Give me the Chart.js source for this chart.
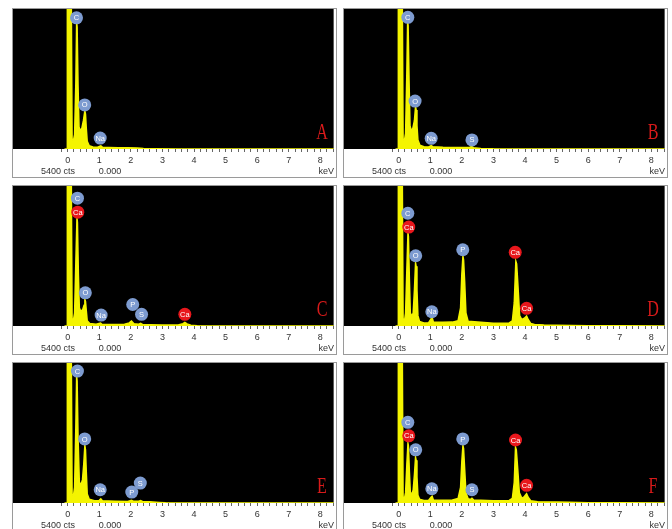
<!DOCTYPE html>
<html>
<head>
<meta charset="utf-8">
<script src="https://cdn.jsdelivr.net/npm/chart.js@4.4.1/dist/chart.umd.min.js"></script>
<style>
  html, body { margin: 0; padding: 0; background: #fff; }
  #wrap { position: relative; width: 672px; height: 529px; overflow: hidden; background: #fff; }
  .panel { position: absolute; width: 323px; height: 168px; outline: 1px solid #9a9a9a; }
  .panel canvas { display: block; background: #fff; }
</style>
</head>
<body>
<div id="wrap"></div>
<script>
/* ---- spectra: [keV, counts] ---- */
const SPEC_A = [[-0.1,0],[-0.02,0],[-0.01,7000],[0.11,7000],[0.14,400],[0.18,300],[0.22,550],[0.26,2600],[0.285,4900],[0.3,4700],[0.33,2400],[0.36,850],[0.4,700],[0.45,800],[0.5,1100],[0.545,1470],[0.565,1350],[0.59,800],[0.62,300],[0.68,130],[0.8,80],[0.95,70],[1.02,110],[1.05,120],[1.1,70],[1.3,60],[1.6,50],[1.9,45],[2.2,35],[2.4,20],[2.8,10],[3.5,0],[8.5,0]];
const SPEC_B = [[-0.1,0],[-0.02,0],[-0.01,7000],[0.11,7000],[0.14,400],[0.18,300],[0.22,600],[0.26,3000],[0.285,4950],[0.3,4750],[0.33,2600],[0.36,900],[0.4,700],[0.45,800],[0.5,1100],[0.535,1630],[0.555,1500],[0.58,900],[0.61,350],[0.67,150],[0.8,90],[0.95,80],[1.03,130],[1.08,90],[1.4,70],[1.8,60],[2.1,55],[2.25,70],[2.31,90],[2.37,50],[2.6,20],[3.0,5],[3.5,0],[8.5,0]];
const SPEC_C = [[-0.1,0],[-0.02,0],[-0.01,7000],[0.11,7000],[0.14,300],[0.18,200],[0.22,500],[0.26,2500],[0.295,4160],[0.31,4000],[0.34,2000],[0.37,700],[0.42,550],[0.48,650],[0.52,800],[0.545,1025],[0.565,950],[0.59,600],[0.62,200],[0.7,100],[0.9,70],[1.04,110],[1.08,70],[1.4,60],[1.8,70],[1.95,120],[2.02,190],[2.1,90],[2.25,70],[2.31,100],[2.37,60],[2.6,50],[3.0,35],[3.5,40],[3.65,90],[3.71,140],[3.78,80],[3.9,30],[4.1,10],[4.5,0],[8.5,0]];
const SPEC_D = [[-0.1,0],[-0.02,0],[-0.01,7000],[0.11,7000],[0.14,300],[0.18,150],[0.22,500],[0.26,2200],[0.295,3590],[0.31,3450],[0.34,1800],[0.37,500],[0.42,380],[0.46,500],[0.5,1400],[0.535,2430],[0.555,2300],[0.58,1400],[0.61,400],[0.66,180],[0.8,120],[0.95,130],[1.03,280],[1.06,330],[1.1,150],[1.4,140],[1.7,150],[1.88,200],[1.96,700],[2.0,2000],[2.035,2690],[2.055,2550],[2.09,1700],[2.13,500],[2.2,180],[2.5,150],[3.0,110],[3.5,120],[3.6,200],[3.66,900],[3.71,2500],[3.735,2400],[3.77,1700],[3.83,400],[3.9,250],[3.98,300],[4.05,384],[4.1,250],[4.18,100],[4.3,60],[4.6,40],[5.0,30],[5.5,20],[6.0,10],[7.0,5],[8.5,0]];
const SPEC_E = [[-0.1,0],[-0.02,0],[-0.01,7000],[0.11,7000],[0.14,350],[0.18,250],[0.22,600],[0.26,3000],[0.285,4900],[0.3,4700],[0.33,2500],[0.37,800],[0.42,700],[0.47,900],[0.51,1500],[0.545,2215],[0.565,2050],[0.59,1200],[0.62,350],[0.68,150],[0.85,90],[1.0,100],[1.05,160],[1.1,90],[1.5,70],[1.9,60],[2.02,100],[2.08,70],[2.25,65],[2.31,90],[2.37,60],[2.6,45],[2.9,20],[3.1,5],[3.5,0],[8.5,0]];
const SPEC_F = [[-0.1,0],[-0.02,0],[-0.01,7000],[0.11,7000],[0.14,250],[0.18,150],[0.22,400],[0.26,1500],[0.295,2300],[0.31,2200],[0.34,1200],[0.37,400],[0.42,350],[0.46,500],[0.5,1100],[0.535,1765],[0.555,1650],[0.58,1000],[0.61,300],[0.66,150],[0.8,100],[0.95,110],[1.03,230],[1.06,260],[1.1,120],[1.4,110],[1.7,120],[1.88,170],[1.96,600],[2.0,1600],[2.035,2215],[2.055,2100],[2.09,1300],[2.13,400],[2.2,160],[2.28,140],[2.32,180],[2.37,120],[2.6,110],[3.0,90],[3.5,100],[3.6,180],[3.66,800],[3.7,2150],[3.725,2050],[3.77,1300],[3.82,400],[3.9,180],[3.98,250],[4.05,360],[4.1,220],[4.18,90],[4.4,50],[5.0,35],[5.4,25],[6.0,10],[7.0,5],[8.5,0]];

/* ---- element markers: [symbol, keV, counts of marker centre] ---- */
const PEAKS_A = [["C",0.28,5060],["O",0.54,1700],["Na",1.03,420]];
const PEAKS_B = [["C",0.29,5080],["O",0.52,1850],["Na",1.03,410],["S",2.32,350]];
const PEAKS_C = [["C",0.31,4930],["Ca",0.32,4390],["O",0.56,1280],["Na",1.06,420],["P",2.06,830],["S",2.34,450],["Ca",3.71,450]];
const PEAKS_D = [["C",0.29,4350],["Ca",0.32,3815],["O",0.54,2710],["Na",1.05,550],["P",2.03,2940],["Ca",3.69,2840],["Ca",4.05,680]];
const PEAKS_E = [["C",0.31,5090],["O",0.54,2470],["Na",1.03,510],["P",2.03,420],["S",2.3,770]];
const PEAKS_F = [["C",0.29,3110],["Ca",0.32,2590],["O",0.54,2050],["Na",1.05,550],["P",2.03,2470],["S",2.32,510],["Ca",3.7,2430],["Ca",4.05,680]];

const LETTERS = ["A", "B", "C", "D", "E", "F"];
const SPECTRA = [SPEC_A, SPEC_B, SPEC_C, SPEC_D, SPEC_E, SPEC_F];
const PEAKS = [PEAKS_A, PEAKS_B, PEAKS_C, PEAKS_D, PEAKS_E, PEAKS_F];
const KEV_TICKS = [0, 1, 2, 3, 4, 5, 6, 7, 8];
const FULL_SCALE = 5400;
const STRIP_TEXT = ["5400 cts", "0.000", "keV"];

/* ---- layout ---- */
const POS = [[13, 9], [344, 9], [13, 186], [344, 186], [13, 363], [344, 363]];
const W = 323, H = 168, STRIP = 28;
const YELLOW = "#f4f400";
const BLUE = "#7d9bd0";
const RED = "#e8171c";

const minorTicks = [];
for (let k = -1; k <= 42; k++) minorTicks.push(k / 5);

const decor = {
  id: "edsDecor",
  beforeDraw(chart) {
    const a = chart.chartArea, ctx = chart.ctx;
    ctx.save();
    ctx.fillStyle = "#000";
    ctx.fillRect(a.left, a.top, a.width, a.height);
    ctx.restore();
  },
  afterDatasetsDraw(chart) {
    const i = +chart.canvas.dataset.idx;
    const ctx = chart.ctx, xs = chart.scales.x, ys = chart.scales.y, a = chart.chartArea;
    ctx.save();
    PEAKS[i].forEach(([el, kev, cts]) => {
      const x = xs.getPixelForValue(kev), y = ys.getPixelForValue(cts);
      ctx.beginPath();
      ctx.arc(x, y, 6.5, 0, Math.PI * 2);
      ctx.fillStyle = el === "Ca" ? RED : BLUE;
      ctx.fill();
      ctx.fillStyle = "#fff";
      ctx.font = "7.5px 'Liberation Sans', Arial, sans-serif";
      ctx.textAlign = "center";
      ctx.textBaseline = "middle";
      ctx.fillText(el, x, y + 0.5);
    });
    // panel letter
    ctx.translate(a.left + 309, a.top + 130);
    ctx.scale(0.7, 1);
    ctx.fillStyle = "#d81a1a";
    ctx.font = "23px 'Liberation Serif', 'Times New Roman', serif";
    ctx.textAlign = "center";
    ctx.textBaseline = "alphabetic";
    ctx.fillText(LETTERS[i], 0, 0);
    ctx.restore();
  },
  afterDraw(chart) {
    const ctx = chart.ctx, a = chart.chartArea;
    ctx.save();
    ctx.fillStyle = "#333";
    ctx.font = "9px 'Liberation Sans', Arial, sans-serif";
    ctx.textBaseline = "middle";
    const y = a.bottom + 23;
    ctx.textAlign = "center";
    ctx.fillText(STRIP_TEXT[0], a.left + 45, y);
    ctx.fillText(STRIP_TEXT[1], a.left + 97, y);
    ctx.textAlign = "right";
    ctx.fillText(STRIP_TEXT[2], a.left + 321, y);
    ctx.restore();
  }
};

const wrap = document.getElementById("wrap");
SPECTRA.forEach((spec, i) => {
  const div = document.createElement("div");
  div.className = "panel";
  div.style.left = POS[i][0] + "px";
  div.style.top = POS[i][1] + "px";
  const cv = document.createElement("canvas");
  cv.width = W; cv.height = H;
  cv.dataset.idx = i;
  div.appendChild(cv);
  wrap.appendChild(div);

  new Chart(cv.getContext("2d"), {
    type: "line",
    data: {
      datasets: [{
        data: spec.map(([x, y]) => ({ x, y })),
        borderColor: YELLOW,
        backgroundColor: YELLOW,
        borderWidth: 1.5,
        fill: "origin",
        pointRadius: 0,
        tension: 0,
        clip: 0,
      }],
    },
    options: {
      responsive: false, animation: false, devicePixelRatio: 1,
      layout: { padding: 0 },
      plugins: { legend: { display: false }, tooltip: { enabled: false } },
      scales: {
        x: {
          type: "linear", min: -1.73, max: 8.42,
          afterBuildTicks: (s) => { s.ticks = minorTicks.map((v) => ({ value: v })); },
          afterFit: (s) => { s.height = STRIP; },
          ticks: {
            autoSkip: false, maxRotation: 0, padding: 3, color: "#333",
            font: { size: 9, family: "'Liberation Sans', Arial, sans-serif" },
            callback: (v) => (KEV_TICKS.includes(v) ? String(v) : ""),
          },
          grid: { drawOnChartArea: false, tickLength: 3, color: "#666", lineWidth: 1 },
          border: { display: false },
        },
        y: { display: false, min: 0, max: FULL_SCALE },
      },
    },
    plugins: [decor],
  });
});
</script>
</body>
</html>
